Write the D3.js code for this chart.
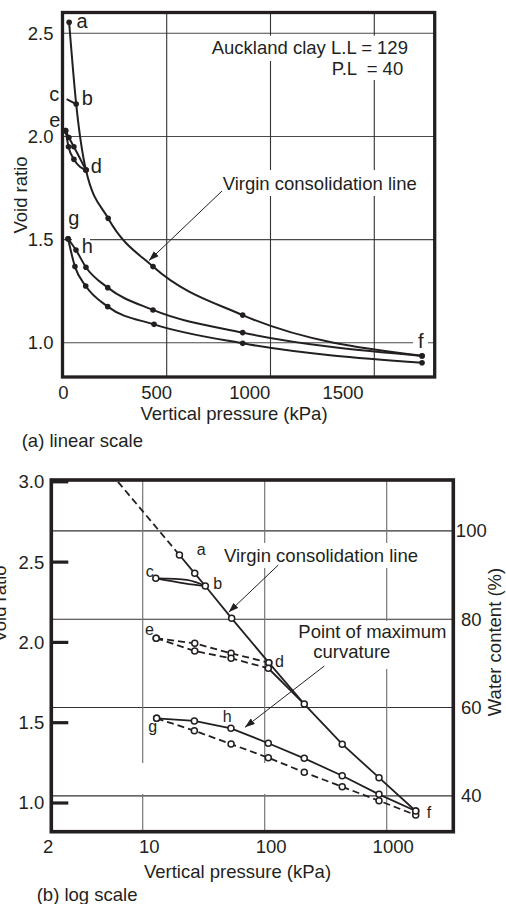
<!DOCTYPE html>
<html><head><meta charset="utf-8">
<script src="https://cdn.jsdelivr.net/npm/d3@7"></script>
<style>
html,body{margin:0;padding:0;background:#fff;}
svg{display:block;font-family:"Liberation Sans",Arial,Helvetica,sans-serif;}
</style></head><body>
<svg id="c" width="506" height="904"></svg>
<script>
// ===== (a) linear scale : [pressure kPa, void ratio] =====
const linXTicks = [0, 500, 1000, 1500];
const linYTicks = [1.0, 1.5, 2.0, 2.5];
const linVirgin = [[30,2.553],[64,2.157],[111,1.837],[218,1.603],[434,1.369],[866,1.134],[1730,0.937]];
const linCB = [[18,2.181],[64,2.157]];
const linEDUnload = [[13,2.028],[29,1.995],[53,1.950],[111,1.837]];
const linEDReload = [[13,2.028],[27,1.950],[53,1.889],[111,1.837]];
const linGHReload = [[25,1.504],[63,1.449],[111,1.366],[216,1.267],[434,1.159],[866,1.049],[1730,0.936]];
const linFGUnload = [[25,1.504],[58,1.369],[110,1.275],[216,1.175],[439,1.089],[866,0.997],[1730,0.903]];

// ===== (b) log scale : [pressure kPa, void ratio] =====
const logXTicks = [10, 100, 1000];
const logYTicks = [1.0, 1.5, 2.0, 2.5, 3.0];
const wTicks = [40, 60, 80, 100];
const logVirginExtrap = [[6.27,3.0],[20,2.544]];
const logVirgin = [[20,2.544],[26.7,2.430],[32.6,2.351],[53.6,2.150],[108,1.874],[211,1.616],[432,1.366],[865,1.158],[1729,0.950]];
const logCBUpper = [[12.8,2.399],[23,2.389],[32.6,2.351]];
const logCBLower = [[12.8,2.399],[22,2.368],[32.6,2.351]];
const logEDUnload = [[12.9,2.026],[26.7,1.994],[53,1.932],[108,1.874]];
const logEDReload = [[12.9,2.026],[26.7,1.946],[53,1.901],[107,1.839]];
const logEDJoin = [[107,1.839],[211,1.616]];
const logFGUnload = [[13,1.527],[26.5,1.450],[53,1.367],[107,1.282],[211,1.191],[432,1.101],[865,1.014],[1729,0.925]];
const logGHReload = [[13,1.527],[26.5,1.511],[52.9,1.465],[107,1.372],[211,1.278],[432,1.170],[865,1.054],[1729,0.950]];

const ink = "#231f20";
const FS = 18.5;
const svg = d3.select("#c");

svg.append("defs").append("marker")
  .attr("id","arr").attr("viewBox","0 0 10 7").attr("refX",10).attr("refY",3.5)
  .attr("markerWidth",10).attr("markerHeight",7).attr("markerUnits","userSpaceOnUse")
  .attr("orient","auto")
  .append("path").attr("d","M0,0 L10,3.5 L0,7 Z").attr("fill",ink);

function text(g, x, y, s, size, anchor) {
  return g.append("text").attr("x",x).attr("y",y).attr("font-size",size||FS)
    .attr("text-anchor",anchor||"start").attr("fill",ink).style("white-space","pre").text(s);
}
function box(g, x0, y0, x1, y1) {
  g.append("rect").attr("x",x0).attr("y",y0).attr("width",x1-x0).attr("height",y1-y0).attr("fill","#fff");
}

// ================= TOP CHART =================
const T = {l:62.5, r:434.7, t:12.5, b:377};
const xLin = d3.scaleLinear().domain([0,1791]).range([62.9,434.7]);
const xLinLabel = d3.scaleLinear().domain([0,1500]).range([63,342.5]);
const yLin = d3.scaleLinear().domain([0.8339,2.6007]).range([T.b,T.t]);
const gT = svg.append("g");

gT.selectAll("line.hg").data(linYTicks).join("line")
  .attr("x1",T.l).attr("x2",T.r).attr("y1",d=>yLin(d)).attr("y2",d=>yLin(d))
  .attr("stroke","#4a4a4a").attr("stroke-width",1.1);
gT.selectAll("line.vg").data(linXTicks.filter(d=>d>0)).join("line")
  .attr("y1",T.t).attr("y2",T.b).attr("x1",d=>xLin(d)).attr("x2",d=>xLin(d))
  .attr("stroke","#333").attr("stroke-width",1.1);

box(gT, 205, 35.7, 416, 61);
box(gT, 325, 61, 410, 80);
box(gT, 219, 170, 421, 196);
box(gT, 72, 238, 90, 254);
box(gT, 413, 332, 428, 350);

const lineLin = d3.line().x(d=>xLin(d[0])).y(d=>yLin(d[1])).curve(d3.curveMonotoneX);
[linVirgin, linEDUnload, linEDReload, linGHReload, linFGUnload].forEach(s=>{
  gT.append("path").attr("d",lineLin(s)).attr("fill","none").attr("stroke",ink).attr("stroke-width",2);
});
gT.append("path").attr("d",d3.line().x(d=>xLin(d[0])).y(d=>yLin(d[1]))(linCB))
  .attr("fill","none").attr("stroke",ink).attr("stroke-width",2);
const linPts = [].concat(linVirgin, linEDUnload, linEDReload, linGHReload, linFGUnload);
gT.selectAll("circle").data(linPts).join("circle")
  .attr("cx",d=>xLin(d[0])).attr("cy",d=>yLin(d[1])).attr("r",2.8).attr("fill",ink);

gT.append("rect").attr("x",T.l).attr("y",T.t).attr("width",T.r-T.l).attr("height",T.b-T.t)
  .attr("fill","none").attr("stroke",ink).attr("stroke-width",3.3);

const ayT = gT.append("g").attr("transform",`translate(${T.l},0)`)
  .call(d3.axisLeft(yLin).tickValues(linYTicks).tickFormat(d3.format(".1f")).tickSize(0).tickPadding(9));
const axT = gT.append("g").attr("transform",`translate(0,${T.b})`)
  .call(d3.axisBottom(xLinLabel).tickValues(linXTicks).tickFormat(d3.format("d")).tickSize(0).tickPadding(9));
[ayT, axT].forEach(a=>{
  a.select(".domain").remove();
  a.selectAll("text").attr("font-size",FS).attr("fill",ink).attr("font-family","Liberation Sans, Arial, sans-serif");
});

text(gT, 234, 420, "Vertical pressure (kPa)", FS, "middle");
text(svg, 21.7, 447, "(a) linear scale");
svg.append("text").attr("transform","translate(27,195) rotate(-90)").attr("text-anchor","middle")
  .attr("font-size",FS).attr("fill",ink).text("Void ratio");
text(gT, 211.7, 54, "Auckland clay L.L = 129");
text(gT, 331.7, 75, "P.L  = 40");
text(gT, 222.7, 189.5, "Virgin consolidation line");
gT.append("line").attr("x1",222).attr("y1",191)
  .attr("x2",xLin(434)-4).attr("y2",yLin(1.369)-6)
  .attr("stroke",ink).attr("stroke-width",1).attr("marker-end","url(#arr)");
const LS = 20;
text(gT, 76.5, 28.3, "a", LS);
text(gT, 81.7, 105, "b", LS);
text(gT, 49.3, 100.7, "c", LS);
text(gT, 49.3, 126.7, "e", LS);
text(gT, 90.7, 173.3, "d", LS);
text(gT, 68.3, 225.4, "g", LS);
text(gT, 81.7, 252.7, "h", LS);
text(gT, 418, 348.3, "f", LS);

// ================= BOTTOM CHART =================
const B = {l:51.3, r:453.3, t:480, b:831.7};
const xLog = d3.scaleLog().domain([1.781,3516]).range([B.l,B.r]);
const yLog = d3.scaleLinear().domain([0.8213,3.0112]).range([B.b,B.t]);
const wSc = d3.scaleLinear().domain([31.89,111.53]).range([B.b,B.t]);
const gB = svg.append("g");

gB.selectAll("line.hg").data(wTicks).join("line")
  .attr("x1",B.l).attr("x2",B.r).attr("y1",d=>wSc(d)).attr("y2",d=>wSc(d))
  .attr("stroke","#333").attr("stroke-width",1.1);
gB.selectAll("line.vg").data(logXTicks).join("line")
  .attr("y1",B.t).attr("y2",B.b).attr("x1",d=>xLog(d)).attr("x2",d=>xLog(d))
  .attr("stroke","#777").attr("stroke-width",1.2);

box(gB, 220, 543, 423, 568);
box(gB, 296, 621, 449, 669);
box(gB, 135, 763, 275, 794);

const lineLog = d3.line().x(d=>xLog(d[0])).y(d=>yLog(d[1]));
const lineLogC = d3.line().x(d=>xLog(d[0])).y(d=>yLog(d[1])).curve(d3.curveNatural);
function drawLog(s, dashed, gen) {
  gB.append("path").attr("d",(gen||lineLog)(s)).attr("fill","none").attr("stroke",ink)
    .attr("stroke-width",1.8).attr("stroke-dasharray",dashed?"7,4":null);
}
drawLog(logVirginExtrap, true);
drawLog(logVirgin, false);
drawLog(logCBUpper, false, lineLogC);
drawLog(logCBLower, false, lineLogC);
drawLog(logEDUnload, true);
drawLog(logEDReload, true);
drawLog(logEDJoin, false);
drawLog(logFGUnload, true);
drawLog(logGHReload, false);

const logPts = [].concat(logVirgin, [logCBUpper[0]], logEDUnload, logEDReload, logFGUnload, logGHReload);
gB.selectAll("circle").data(logPts).join("circle")
  .attr("cx",d=>xLog(d[0])).attr("cy",d=>yLog(d[1])).attr("r",3)
  .attr("fill","#fff").attr("stroke",ink).attr("stroke-width",1.5);

gB.append("rect").attr("x",B.l).attr("y",B.t).attr("width",B.r-B.l).attr("height",B.b-B.t)
  .attr("fill","none").attr("stroke",ink).attr("stroke-width",3.6);
gB.selectAll("line.tk").data(logYTicks).join("line")
  .attr("x1",B.l).attr("x2",B.l+17).attr("y1",d=>yLog(d)).attr("y2",d=>yLog(d))
  .attr("stroke",ink).attr("stroke-width",3.2);

const ayB = gB.append("g").attr("transform",`translate(${B.l},0)`)
  .call(d3.axisLeft(yLog).tickValues(logYTicks).tickFormat(d3.format(".1f")).tickSize(0).tickPadding(7));
const awB = gB.append("g").attr("transform",`translate(${B.r},0)`)
  .call(d3.axisRight(wSc).tickValues(wTicks).tickFormat(d3.format("d")).tickSize(0).tickPadding(0));
awB.selectAll("text").attr("text-anchor","middle").attr("x",18);
const axB = gB.append("g").attr("transform",`translate(0,${B.b})`)
  .call(d3.axisBottom(xLog).tickValues([xLog.domain()[0]].concat(logXTicks))
    .tickFormat(d=> d<5 ? "2" : d3.format("d")(d)).tickSize(0).tickPadding(8.5));
axB.selectAll("text").attr("dx",d=> d<5 ? -3.6 : 6);
[ayB, awB, axB].forEach(a=>{
  a.select(".domain").remove();
  a.selectAll("text").attr("font-size",FS).attr("fill",ink).attr("font-family","Liberation Sans, Arial, sans-serif");
});

text(gB, 237.5, 878, "Vertical pressure (kPa)", FS, "middle");
text(svg, 36.7, 901, "(b) log scale");
svg.append("text").attr("transform","translate(6,604) rotate(-90)").attr("text-anchor","middle")
  .attr("font-size",FS).attr("fill",ink).text("Void ratio");
svg.append("text").attr("transform","translate(501,642) rotate(-90)").attr("text-anchor","middle")
  .attr("font-size",FS).attr("fill",ink).text("Water content (%)");

text(gB, 224, 561.7, "Virgin consolidation line");
gB.append("line").attr("x1",278.3).attr("y1",565)
  .attr("x2",xLog(53.6)-3).attr("y2",yLog(2.15)-6)
  .attr("stroke",ink).attr("stroke-width",1).attr("marker-end","url(#arr)");
text(gB, 298.3, 638.3, "Point of maximum");
text(gB, 313.3, 658, "curvature");
gB.append("line").attr("x1",324.3).attr("y1",666)
  .attr("x2",xLog(52.9)+14).attr("y2",yLog(1.465)-1)
  .attr("stroke",ink).attr("stroke-width",1).attr("marker-end","url(#arr)");

const LB = 16;
text(gB, 196.7, 555, "a", LB);
text(gB, 213.3, 589.3, "b", LB);
text(gB, 145.7, 576.7, "c", LB);
text(gB, 145, 635, "e", LB);
text(gB, 275, 666.7, "d", LB);
text(gB, 148.3, 731.6, "g", LB);
text(gB, 222.7, 721.7, "h", LB);
text(gB, 426.7, 818.3, "f", LB);
</script>
</body></html>
